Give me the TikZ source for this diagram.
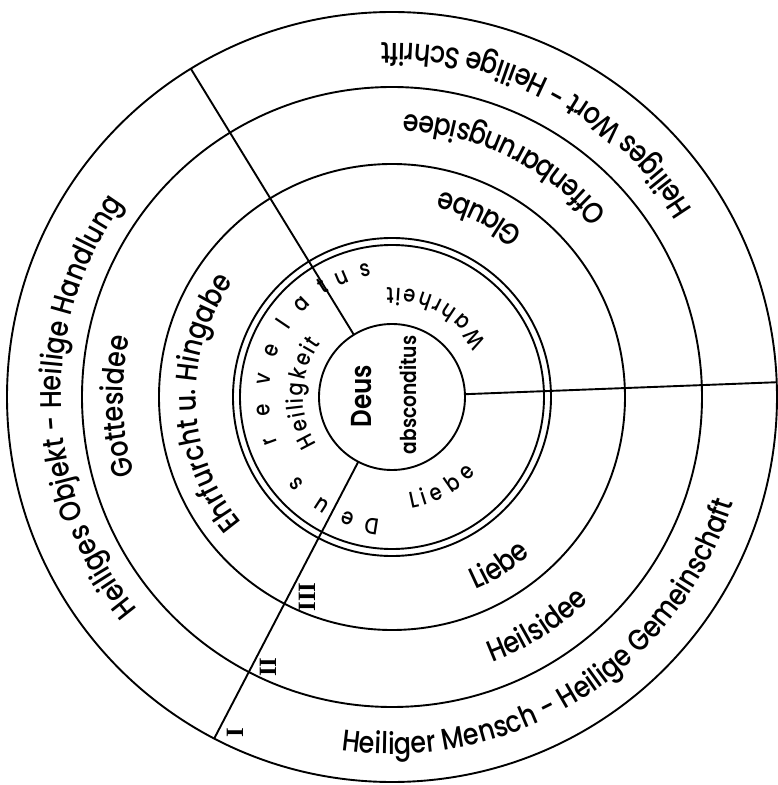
\documentclass[tikz,border=0pt]{standalone}
\usepackage{fontspec}
\setmainfont{Poppins}[FakeStretch=0.85, UprightFont={* Medium}, BoldFont={* SemiBold}]
\newfontfamily\numeralfont{Liberation Serif}
\usetikzlibrary{decorations.text}

\tikzset{
  ringline/.style={line width=1.9bp},
  revletter/.style={anchor=base, inner sep=0pt, font=\fontsize{23}{23}\selectfont},
  numeral/.style={rotate=90, inner sep=0pt, font=\numeralfont\bfseries\fontsize{25}{25}\selectfont},
  coretext/.style={rotate=90, inner sep=0pt, font=\bfseries},
  spacedword/.style={font=\innersize, decorate, decoration={text effects along path,
      text={#1}, text effects/.cd, text along path, fit text to path,
      characters={font=\innersize}}},
}

\newcommand{\ringsize}{\fontsize{30}{30}\selectfont}
\newcommand{\innersize}{\fontsize{23}{23}\selectfont}

% text on an arc: radius, start angle, end angle, text
\newcommand{\arclabel}[4]{%
  \path[decorate, decoration={text along path, text align=center, text={#4}}]
    (#2:#1) arc[start angle=#2, end angle=#3, radius=#1];}

\begin{document}
\begin{tikzpicture}[x=1bp, y=1bp]
  \path[use as bounding box, fill=white] (-392,-388) rectangle (386,397);

  % rings
  \foreach \r in {385, 310, 233, 159, 152, 73}
    \draw[ringline] (0,0) circle (\r);

  % sector borders
  \coordinate (inA) at (2.2:73);    \coordinate (outA) at (2.2:385);
  \coordinate (inB) at (121.5:73);  \coordinate (outB) at (121.5:385);
  \coordinate (inC) at (242.5:73);  \coordinate (outC) at (242.5:385);
  \draw[ringline] (inA) -- (outA);
  \draw[ringline] (inB) -- (outB);
  \draw[ringline] (inC) -- (outC);

  % ring I
  \arclabel{354}{2.2}{121.5}{|\ringsize|Heiliges Wort - Heilige Schrift}
  \arclabel{331}{242.5}{121.5}{|\ringsize|Heiliges Objekt - Heilige Handlung}
  \arclabel{357}{242.5}{362.2}{|\ringsize|Heiliger Mensch - Heilige Gemeinschaft}

  % ring II
  \arclabel{283}{6}{122}{|\ringsize|Offenbarungsidee}
  \arclabel{269}{242.5}{121.5}{|\ringsize|Gottesidee}
  \arclabel{284}{242.5}{362.2}{|\ringsize|Heilsidee}

  % ring III
  \arclabel{211}{6}{122}{|\ringsize|Glaube}
  \arclabel{196}{242.5}{121.5}{|\ringsize|Ehrfurcht u. Hingabe}
  \arclabel{210}{242.5}{362.2}{|\ringsize|Liebe}

  % inner ring
  \path[spacedword=Wahrheit] (30:109) arc[start angle=30, end angle=93, radius=109];
  \path[spacedword=Heiligkeit] (212:89) arc[start angle=212, end angle=143, radius=89];
  \path[spacedword=Liebe] (280:113) arc[start angle=280, end angle=318, radius=113];

  \foreach \ch/\ang [count=\i] in {D/261, e/250, u/237, s/222, r/200, e/186,
      v/172, e/159, l/146, a/134, t/122, u/113, s/102}
    \node[revletter, rotate=\ang-90] (rev\i) at (\ang:123) {\ch};

  % centre
  \node[coretext, font=\bfseries\fontsize{29}{29}\selectfont] (deus) at (-30,1) {Deus};
  \node[coretext, font=\bfseries\fontsize{22}{22}\selectfont] (absc) at (16,2) {absconditus};

  % numerals
  \node[numeral] (numI) at (-157,-336) {I};
  \node[numeral] (numII) at (-124,-270) {II};
  \node[numeral] (numIII) at (-85,-200) {III};
\end{tikzpicture}
\end{document}
